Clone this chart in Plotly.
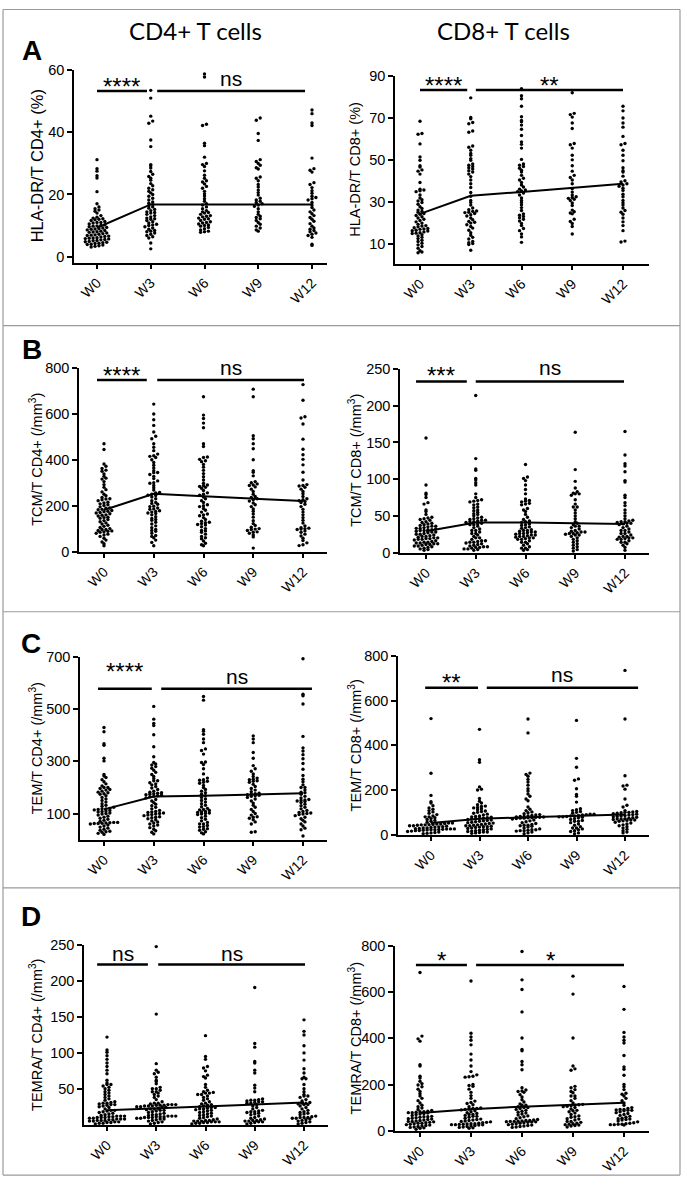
import numpy as np
import plotly.graph_objects as go

W, H = 687, 1185
categories = ["W0", "W3", "W6", "W9", "W12"]

# ---------------- data ----------------
hla_dr_cd4 = [
    [31.2, 28.3, 27.5, 26.0, 25.3, 20.9, 17.0, 16.0, 15.4, 15.0, 14.6, 14.0, 13.2, 12.7, 12.4, 12.2, 11.9, 11.6, 11.3, 11.0,
     10.8, 10.5, 10.2, 10.0, 9.8, 9.6, 9.4, 9.2, 9.0, 8.8, 8.6, 8.4, 8.2, 8.0, 7.8, 7.6, 7.4, 7.2, 7.0, 6.8, 6.6, 6.5, 6.3,
     6.1, 6.0, 5.8, 5.7, 5.5, 5.4, 5.2, 5.1, 4.9, 4.8, 4.6, 4.5, 4.3, 4.2, 4.0, 3.9, 3.7, 3.5, 3.3, 3.1, 12.0, 11.0, 9.9,
     8.9, 7.9, 6.9, 5.9],
    [53.5, 51.0, 45.2, 43.6, 42.9, 37.5, 35.4, 29.6, 29.2, 28.5, 27.4, 26.5, 25.8, 25.2, 24.6, 23.5, 22.8, 22.0, 21.5, 21.0,
     20.5, 20.0, 19.4, 18.8, 18.2, 17.6, 17.2, 16.8, 16.4, 16.0, 15.6, 15.2, 14.8, 14.4, 14.0, 13.6, 13.2, 12.8, 12.4, 12.0,
     11.6, 11.2, 10.8, 10.4, 10.0, 9.6, 9.2, 8.8, 8.4, 8.0, 7.6, 7.2, 6.8, 6.4, 6.0, 4.4, 2.5, 14.2, 12.2, 10.2, 8.2],
    [58.8, 57.8, 42.6, 42.2, 36.5, 35.7, 32.0, 30.0, 29.6, 29.0, 27.6, 26.2, 25.2, 24.4, 24.0, 23.4, 22.6, 22.0, 21.0, 20.2,
     19.5, 18.6, 17.8, 17.0, 16.6, 16.0, 15.4, 14.8, 14.4, 14.0, 13.6, 13.2, 12.8, 12.4, 12.0, 11.6, 11.2, 10.8, 10.5, 10.2,
     9.8, 9.4, 9.0, 8.6, 8.2, 7.8, 14.2, 13.0, 12.2, 11.0, 10.0, 8.0],
    [44.6, 43.9, 39.6, 37.4, 31.2, 30.6, 30.0, 29.4, 28.6, 28.2, 25.6, 25.2, 24.4, 23.2, 22.4, 21.4, 20.6, 19.8, 18.8, 18.2,
     17.8, 17.4, 17.0, 16.6, 16.2, 15.4, 14.4, 13.6, 13.0, 12.6, 12.2, 11.6, 11.0, 10.4, 9.8, 9.2, 8.6, 8.2],
    [47.2, 46.0, 43.0, 42.2, 31.7, 28.3, 27.8, 27.2, 23.8, 23.2, 22.2, 21.2, 20.4, 19.4, 19.0, 18.6, 18.2, 17.4, 16.6, 15.8,
     15.0, 14.4, 13.8, 13.2, 12.6, 12.0, 11.4, 10.6, 9.8, 9.2, 8.8, 8.4, 8.0, 7.6, 7.2, 6.8, 6.2, 4.0, 3.6],
]
hla_dr_cd4_median = [9.3, 16.8, 16.8, 16.8, 16.8]

hla_dr_cd8 = [
    [68.4, 62.6, 62.2, 57.6, 51.4, 49.8, 47.2, 46.6, 45.2, 44.6, 43.2, 39.2, 36.0, 35.6, 35.2, 34.8, 33.2, 31.8, 31.0, 30.4,
     29.6, 28.8, 27.6, 26.8, 26.0, 25.4, 25.0, 24.4, 24.0, 23.4, 22.8, 22.2, 21.6, 21.0, 20.4, 19.8, 19.2, 18.6, 18.0, 17.6,
     17.2, 16.8, 16.4, 16.0, 15.6, 15.2, 14.8, 14.2, 13.6, 13.0, 12.4, 11.6, 11.0, 10.2, 9.4, 8.6, 7.8, 6.6, 6.0, 5.6, 17.0,
     15.0, 16.2, 18.4],
    [79.6, 70.2, 69.6, 67.8, 67.2, 63.8, 63.2, 56.6, 56.0, 54.6, 53.0, 52.2, 50.6, 49.8, 48.0, 47.4, 46.8, 46.2, 45.6, 44.8,
     44.2, 43.2, 42.0, 40.4, 38.6, 36.8, 34.4, 32.6, 30.6, 29.6, 28.4, 27.0, 26.2, 25.6, 25.0, 24.4, 23.8, 23.2, 22.2, 21.4,
     20.6, 19.8, 19.0, 18.2, 17.4, 16.4, 15.2, 14.0, 13.0, 12.2, 11.0, 10.4, 10.0, 9.6, 6.8, 24.8, 25.4, 20.2],
    [84.0, 80.6, 79.2, 75.6, 70.6, 68.8, 68.2, 66.6, 64.6, 61.6, 58.6, 57.4, 55.6, 50.2, 48.0, 47.4, 46.8, 46.0, 45.0, 44.2,
     42.6, 41.2, 40.4, 39.2, 38.0, 37.0, 36.0, 35.6, 35.2, 34.8, 34.2, 33.2, 31.8, 30.6, 29.6, 28.6, 27.2, 25.8, 24.2, 23.6,
     23.0, 22.4, 21.6, 20.8, 19.6, 18.6, 17.2, 16.2, 14.6, 13.2, 10.6],
    [82.0, 72.2, 71.6, 70.4, 67.6, 65.0, 57.8, 57.2, 55.6, 52.2, 50.0, 47.2, 44.6, 42.6, 41.6, 40.4, 38.6, 36.2, 34.6, 33.2,
     32.4, 32.0, 31.6, 31.2, 30.6, 29.4, 28.2, 26.0, 25.2, 24.6, 24.2, 21.6, 20.6, 19.6, 18.2, 14.6],
    [75.6, 73.4, 70.0, 67.6, 65.6, 61.2, 57.8, 57.2, 54.6, 52.2, 49.6, 46.2, 44.8, 44.2, 42.2, 40.0, 39.4, 38.6, 38.0, 37.4,
     36.4, 35.4, 33.6, 32.4, 30.6, 29.4, 28.4, 27.0, 25.8, 25.0, 24.0, 22.2, 20.4, 18.6, 16.2, 11.2, 10.8],
]
hla_dr_cd8_median = [24.2, 32.8, 34.7, 36.7, 38.6]

tcm_cd4 = [
    [470, 445, 382, 372, 362, 350, 338, 328, 316, 305, 292, 280, 270, 260, 250, 243, 236, 229, 222, 215, 208, 201, 195, 189,
     184, 179, 174, 170, 165, 160, 155, 150, 145, 140, 135, 130, 125, 120, 115, 110, 105, 100, 96, 92, 88, 84, 80, 76, 72,
     66, 58, 50, 42, 34, 25, 190, 182, 176, 168, 158, 148, 96, 90, 86, 230, 226, 212, 204, 320, 355],
    [643, 600, 575, 550, 521, 503, 492, 470, 455, 440, 425, 418, 410, 400, 388, 376, 364, 352, 344, 336, 328, 318, 308, 298,
     288, 278, 268, 258, 250, 244, 238, 230, 222, 214, 206, 198, 190, 184, 178, 172, 166, 160, 152, 144, 136, 128, 120, 112,
     104, 96, 88, 80, 70, 60, 50, 40, 25, 345, 255, 246, 186, 175, 168, 415, 300, 210, 140, 66, 92, 196],
    [675, 595, 580, 560, 540, 470, 458, 412, 402, 392, 380, 368, 354, 340, 326, 312, 298, 290, 284, 276, 266, 256, 246, 238,
     230, 222, 214, 204, 196, 188, 180, 172, 164, 156, 148, 140, 132, 126, 122, 116, 108, 100, 92, 84, 76, 66, 56, 46, 36,
     25, 288, 280, 200, 128, 118, 410, 396, 250, 160, 90, 60, 30],
    [708, 675, 505, 492, 470, 448, 400, 352, 346, 330, 305, 295, 288, 282, 272, 262, 250, 240, 230, 220, 212, 204, 196, 186,
     176, 164, 150, 134, 122, 114, 106, 100, 96, 92, 86, 80, 72, 64, 15, 290, 236, 226, 98, 84, 300],
    [728, 660, 588, 582, 556, 490, 446, 422, 402, 378, 346, 312, 292, 286, 280, 272, 262, 252, 240, 230, 222, 214, 206, 196,
     184, 172, 160, 148, 136, 124, 112, 104, 100, 96, 90, 84, 76, 68, 58, 48, 38, 30, 26, 288, 226, 218, 102, 98],
]
tcm_cd4_median = [181, 252, 241, 231, 220]

tcm_cd8 = [
    [156, 92, 81, 79, 75, 68, 66, 58, 56, 52, 48, 47, 46, 45, 44, 42, 41, 40, 39, 38, 37, 36, 35, 34, 33, 32, 31, 30, 30, 29,
     28, 27, 26, 25, 24, 23, 22, 21, 20, 20, 19, 19, 18, 17, 16, 15, 14, 13, 13, 12, 12, 11, 10, 9, 8, 7, 6, 5, 4, 3, 28, 25,
     22, 18, 14, 11, 31, 33, 36, 9],
    [214, 128, 114, 112, 101, 99, 95, 92, 80, 75, 72, 71, 70, 69, 65, 61, 57, 53, 50, 47, 46, 45, 44, 43, 42, 41, 40, 39, 38,
     36, 34, 32, 30, 28, 26, 24, 22, 20, 18, 16, 15, 14, 13, 12, 11, 10, 9, 8, 7, 6, 5, 4, 3, 44, 42, 38, 30, 16, 14, 8, 7,
     5, 58, 62, 66, 48, 52, 55, 26, 20],
    [120, 103, 101, 98, 92, 86, 80, 73, 71, 69, 67, 65, 60, 56, 52, 48, 45, 43, 41, 39, 37, 35, 33, 31, 30, 29, 28, 27, 26,
     25, 24, 23, 22, 21, 20, 19, 18, 16, 14, 12, 10, 8, 6, 4, 3, 30, 28, 26, 24, 22, 20, 34, 38, 42, 70, 66, 58, 18, 14, 6],
    [164, 113, 97, 88, 83, 81, 80, 78, 72, 66, 62, 58, 54, 50, 46, 42, 40, 38, 36, 34, 32, 30, 29, 28, 27, 26, 25, 24, 22,
     20, 18, 16, 14, 12, 10, 8, 6, 4, 2, 28, 26, 24, 62, 80, 36],
    [165, 133, 121, 118, 110, 98, 96, 78, 75, 68, 64, 58, 54, 50, 46, 44, 43, 42, 41, 40, 39, 38, 36, 34, 32, 30, 28, 26, 24,
     22, 21, 20, 19, 18, 16, 14, 12, 10, 7, 3, 42, 40, 22, 20, 18, 26, 30, 14],
]
tcm_cd8_median = [29, 41, 41, 40, 39]

tem_cd4 = [
    [430, 414, 368, 362, 312, 302, 250, 244, 238, 230, 222, 214, 206, 200, 196, 192, 186, 180, 174, 168, 162, 156, 150, 144,
     138, 132, 128, 124, 120, 118, 116, 114, 112, 110, 106, 102, 98, 94, 90, 86, 82, 78, 74, 70, 66, 65, 64, 63, 62, 60, 56,
     52, 48, 44, 40, 36, 32, 28, 24, 20, 200, 190, 182, 176, 118, 108, 100, 66, 62, 30],
    [511, 462, 446, 438, 402, 356, 318, 296, 286, 280, 274, 266, 258, 250, 242, 234, 226, 218, 210, 204, 198, 192, 186, 180,
     176, 172, 170, 168, 166, 164, 160, 154, 148, 142, 136, 130, 124, 118, 112, 108, 104, 100, 98, 96, 92, 88, 84, 80, 76,
     72, 68, 64, 60, 56, 52, 46, 40, 34, 28, 22, 182, 178, 174, 106, 102, 94, 86, 226, 214, 290],
    [549, 535, 422, 416, 404, 386, 372, 348, 342, 328, 298, 288, 272, 252, 236, 230, 224, 216, 208, 200, 192, 186, 180, 174,
     168, 162, 156, 150, 144, 138, 132, 126, 120, 116, 112, 108, 104, 100, 96, 90, 84, 78, 72, 66, 60, 54, 48, 42, 36, 30,
     26, 22, 228, 220, 114, 106, 102, 98, 60, 50, 40, 296],
    [398, 386, 372, 334, 312, 284, 272, 262, 252, 242, 236, 230, 226, 220, 212, 204, 196, 190, 184, 178, 174, 170, 166, 162,
     156, 148, 140, 132, 124, 116, 108, 100, 94, 88, 82, 76, 68, 60, 30, 28, 232, 224, 172, 168, 176, 86],
    [694, 558, 552, 520, 396, 352, 340, 326, 310, 292, 270, 246, 232, 222, 210, 200, 190, 182, 174, 166, 160, 154, 150, 146,
     142, 136, 130, 124, 118, 112, 108, 104, 100, 96, 92, 86, 80, 74, 68, 60, 52, 44, 38, 14, 152, 148, 102, 98, 180, 200],
]
tem_cd4_median = [116, 165, 168, 173, 178]

tem_cd8 = [
    [520, 275, 176, 148, 142, 130, 120, 114, 108, 102, 96, 90, 84, 80, 76, 72, 68, 64, 60, 56, 52, 50, 48, 46, 45, 44, 42,
     40, 38, 36, 34, 32, 30, 28, 27, 26, 25, 24, 23, 22, 21, 20, 18, 16, 14, 12, 10, 8, 6, 4, 52, 48, 30, 26, 22, 80, 44,
     40, 35, 19],
    [472, 336, 324, 214, 204, 200, 162, 150, 142, 134, 126, 120, 116, 112, 106, 100, 96, 92, 88, 84, 80, 78, 76, 74, 72, 70,
     68, 66, 64, 62, 60, 58, 56, 54, 52, 50, 48, 46, 44, 42, 40, 38, 36, 34, 32, 30, 28, 26, 24, 22, 20, 18, 16, 14, 12, 10,
     8, 6, 82, 74, 40, 36, 12, 104, 122, 128],
    [518, 456, 276, 270, 262, 248, 236, 222, 206, 182, 172, 152, 124, 114, 108, 102, 98, 94, 90, 88, 86, 84, 82, 80, 79, 78,
     77, 76, 74, 72, 70, 66, 62, 58, 54, 50, 46, 42, 40, 38, 34, 30, 26, 22, 20, 18, 16, 12, 8, 4, 82, 78, 74, 42,
     22, 18, 196, 160],
    [512, 342, 302, 250, 244, 206, 180, 172, 146, 116, 112, 108, 104, 100, 96, 92, 90, 88, 86, 84, 82, 80, 78, 76, 72, 68,
     64, 60, 54, 48, 42, 36, 30, 26, 22, 18, 14, 8, 4, 92, 84, 80, 60, 30],
    [736, 518, 264, 222, 218, 204, 160, 132, 124, 108, 104, 102, 100, 98, 96, 94, 92, 90, 88, 86, 84, 82, 80, 78, 76, 74, 72,
     70, 68, 66, 64, 62, 60, 56, 52, 48, 44, 40, 36, 30, 24, 18, 12, 8, 70, 66, 100],
]
tem_cd8_median = [52, 71, 78, 84, 91]

temra_cd4 = [
    [122, 104, 101, 96, 91, 86, 81, 76, 71, 62, 58, 56, 54, 52, 50, 48, 46, 44, 42, 40, 38, 36, 34, 32, 31, 30, 29, 28, 27,
     26, 25, 24, 22, 20, 19, 18, 17, 16, 15, 14, 13, 12, 12, 11, 11, 10, 10, 9, 9, 8, 8, 7, 7, 6, 6, 5, 5, 4, 4, 3, 3, 2, 2,
     1, 12, 10, 8, 6, 30, 28, 56, 20],
    [248, 154, 85, 76, 73, 71, 66, 62, 57, 52, 50, 48, 46, 44, 42, 40, 38, 35, 32, 30, 29, 28, 28, 27, 27, 26, 26, 25, 25,
     24, 24, 23, 22, 21, 20, 19, 18, 17, 16, 15, 14, 13, 12, 12, 11, 11, 10, 10, 9, 9, 8, 8, 7, 6, 5, 4, 3, 2, 1, 28, 27, 26,
     12, 11, 10, 30, 50, 46, 22, 20, 60, 14],
    [124, 95, 91, 81, 79, 75, 69, 67, 65, 56, 52, 48, 46, 45, 44, 42, 40, 38, 36, 34, 32, 30, 29, 28, 27, 26, 25, 24, 23, 22,
     21, 20, 19, 18, 17, 16, 15, 14, 13, 12, 11, 10, 9, 8, 7, 6, 6, 5, 5, 5, 4, 4, 4, 3, 3, 2, 2, 1, 44, 42, 24, 22],
    [191, 113, 108, 88, 86, 76, 72, 55, 51, 46, 36, 35, 34, 33, 32, 31, 30, 28, 26, 24, 22, 20, 19, 18, 17, 16, 15, 14, 12,
     10, 9, 8, 7, 6, 5, 5, 4, 4, 3, 2, 1, 34, 32, 30, 18, 6],
    [146, 130, 125, 110, 100, 90, 78, 72, 66, 64, 56, 50, 46, 42, 40, 38, 35, 33, 31, 30, 29, 28, 26, 24, 22, 20, 18, 17, 16,
     15, 14, 12, 11, 10, 10, 9, 8, 7, 6, 5, 4, 3, 2, 1, 30, 28, 10, 9, 40, 64],
]
temra_cd4_median = [20, 23, 26, 29, 31]

temra_cd8 = [
    [686, 410, 398, 388, 286, 280, 236, 228, 214, 204, 198, 190, 180, 170, 160, 150, 140, 130, 120, 110, 104, 98, 92, 88, 84,
     82, 80, 78, 76, 74, 72, 70, 66, 62, 60, 58, 56, 54, 52, 50, 48, 46, 44, 42, 40, 38, 36, 34, 32, 30, 28, 26, 24, 22, 20,
     18, 16, 14, 12, 10, 82, 78, 60, 40, 32, 6],
    [649, 422, 406, 392, 372, 332, 306, 280, 256, 242, 236, 232, 200, 192, 180, 166, 152, 140, 128, 122, 112, 104, 98, 96,
     94, 92, 90, 86, 82, 78, 74, 70, 66, 62, 58, 54, 50, 48, 46, 44, 42, 40, 38, 36, 34, 32, 30, 29, 28, 27, 26, 25, 24, 22,
     20, 18, 16, 14, 12, 10, 96, 62, 30, 26, 234, 196, 118, 70],
    [777, 654, 612, 515, 402, 352, 346, 300, 286, 264, 186, 176, 172, 166, 156, 146, 134, 124, 116, 110, 104, 100, 96, 92,
     88, 84, 80, 76, 72, 68, 64, 60, 56, 52, 48, 46, 44, 42, 41, 40, 39, 38, 37, 36, 34, 32, 30, 28, 26, 24, 22, 20, 18, 16,
     14, 44, 40, 110, 100, 170],
    [670, 592, 402, 280, 268, 262, 192, 186, 178, 164, 150, 140, 130, 120, 114, 110, 106, 100, 94, 88, 82, 76, 70, 64, 58,
     52, 46, 40, 36, 32, 28, 24, 20, 16, 112, 108, 104, 60, 40, 30, 26, 22, 150, 170, 50, 86],
    [625, 526, 426, 406, 392, 380, 326, 276, 266, 240, 200, 190, 178, 162, 158, 150, 140, 130, 120, 110, 100, 96, 92, 90, 88,
     86, 82, 78, 74, 70, 66, 62, 58, 54, 50, 48, 46, 42, 38, 34, 32, 30, 28, 28, 26, 26, 24, 92, 88, 52],
]
temra_cd8_median = [76, 93, 104, 111, 121]

# significance labels and the value at which each bar is drawn
hla_dr_cd4_sig, hla_dr_cd4_bar = ["****", "ns"], 53.3
hla_dr_cd8_sig, hla_dr_cd8_bar = ["****", "**"], 83.3
tcm_cd4_sig, tcm_cd4_bar = ["****", "ns"], 748
tcm_cd8_sig, tcm_cd8_bar = ["***", "ns"], 233
tem_cd4_sig, tem_cd4_bar = ["****", "ns"], 579
tem_cd8_sig, tem_cd8_bar = ["**", "ns"], 658
temra_cd4_sig, temra_cd4_bar = ["ns", "ns"], 223
temra_cd8_sig, temra_cd8_bar = ["*", "*"], 718

column_titles = ["CD4+ T cells", "CD8+ T cells"]
panel_letters = ["A", "B", "C", "D"]

# ---------------- layout specs (pixels) ----------------
panels = [
    dict(vals=hla_dr_cd4, med=hla_dr_cd4_median, sig=hla_dr_cd4_sig, bar_y=hla_dr_cd4_bar,
         px=(74, 327, 63, 258), w0=97, sp=53.75, yr=(-1.9, 60), ticks=[0, 20, 40, 60],
         bars=[(0.0, 0.93), (1.12, 3.87)], lab=[9, 10],
         title="HLA-DR/T CD4+ (%)", tx=37, tsize=16.5),
    dict(vals=hla_dr_cd8, med=hla_dr_cd8_median, sig=hla_dr_cd8_sig, bar_y=hla_dr_cd8_bar,
         px=(395, 649, 69, 259), w0=420, sp=50.75, yr=(0.5, 90), ticks=[10, 30, 50, 70, 90],
         bars=[(0.0, 0.93), (1.10, 4.0)], lab=[10, 10],
         title="HLA-DR/T CD8+ (%)", tx=355, tsize=14.5),
    dict(vals=tcm_cd4, med=tcm_cd4_median, sig=tcm_cd4_sig, bar_y=tcm_cd4_bar,
         px=(79, 327, 365, 551), w0=104, sp=49.75, yr=(0, 800), ticks=[0, 200, 400, 600, 800],
         bars=[(-0.14, 0.86), (1.07, 4.02)], lab=[10, 11],
         title="TCM/T CD4+ (/mm<sup>3</sup>)", tx=36, tsize=14.5),
    dict(vals=tcm_cd8, med=tcm_cd8_median, sig=tcm_cd8_sig, bar_y=tcm_cd8_bar,
         px=(400, 649, 366, 552), w0=426, sp=49.75, yr=(0, 250), ticks=[0, 50, 100, 150, 200, 250],
         bars=[(-0.2, 0.82), (1.0, 3.98)], lab=[11, 12],
         title="TCM/T CD8+ (/mm<sup>3</sup>)", tx=355, tsize=14.5),
    dict(vals=tem_cd4, med=tem_cd4_median, sig=tem_cd4_sig, bar_y=tem_cd4_bar,
         px=(80, 327, 658, 843), w0=104, sp=49.75, yr=(0, 700), ticks=[100, 300, 500, 700],
         bars=[(-0.12, 0.96), (1.15, 4.18)], lab=[22, 10],
         title="TEM/T CD4+ (/mm<sup>3</sup>)", tx=36, tsize=14.5),
    dict(vals=tem_cd8, med=tem_cd8_median, sig=tem_cd8_sig, bar_y=tem_cd8_bar,
         px=(398, 649, 657, 838), w0=431, sp=48.5, yr=(0, 800), ticks=[0, 200, 400, 600, 800],
         bars=[(-0.12, 0.97), (1.15, 4.27)], lab=[10, 11],
         title="TEM/T CD8+ (/mm<sup>3</sup>)", tx=355, tsize=14.5),
    dict(vals=temra_cd4, med=temra_cd4_median, sig=temra_cd4_sig, bar_y=temra_cd4_bar,
         px=(84, 328, 950, 1132), w0=107, sp=49.25, yr=(0, 250), ticks=[50, 100, 150, 200, 250],
         bars=[(-0.2, 0.83), (1.04, 4.02)], lab=[9, 9],
         title="TEMRA/T CD4+ (/mm<sup>3</sup>)", tx=36, tsize=14.5),
    dict(vals=temra_cd8, med=temra_cd8_median, sig=temra_cd8_sig, bar_y=temra_cd8_bar,
         px=(395, 649, 951, 1138), w0=420, sp=51.0, yr=(0, 800), ticks=[0, 200, 400, 600, 800],
         bars=[(-0.08, 0.92), (1.1, 4.0)], lab=[10, 10],
         title="TEMRA/T CD8+ (/mm<sup>3</sup>)", tx=355, tsize=14.5),
]

TXT = "Liberation Sans, Arial, sans-serif"
ROW_H, COL_W = 3.0, 3.9


def swarm(values, ppu_y, y0, ppu_x):
    v = np.sort(np.asarray(values, float))
    rows = np.floor((v - y0) * ppu_y / ROW_H).astype(int)
    offs = np.zeros(len(v))
    for r in np.unique(rows):
        idx = np.where(rows == r)[0]
        n = len(idx)
        offs[idx] = (np.arange(n) - (n - 1) / 2.0) * COL_W
    return v, offs / ppu_x


fig = go.Figure()
layout = {}
annotations = []
shapes = []

for k, p in enumerate(panels):
    n = k + 1
    xa = "xaxis" if n == 1 else f"xaxis{n}"
    ya = "yaxis" if n == 1 else f"yaxis{n}"
    xr_ = "x" if n == 1 else f"x{n}"
    yr_ = "y" if n == 1 else f"y{n}"
    x0, x1, yt, yb = p["px"]
    xrange = [(x0 - p["w0"]) / p["sp"], (x1 - p["w0"]) / p["sp"]]
    ppu_x = p["sp"]
    ppu_y = (yb - yt) / (p["yr"][1] - p["yr"][0])

    for g, vals in enumerate(p["vals"]):
        v, off = swarm(vals, ppu_y, p["yr"][0], ppu_x)
        fig.add_trace(go.Scatter(
            x=g + off, y=v, mode="markers", xaxis=xr_, yaxis=yr_,
            marker=dict(size=3.4, color="black", line=dict(width=0)),
            hoverinfo="skip", cliponaxis=False))

    fig.add_trace(go.Scatter(
        x=list(range(len(categories))), y=p["med"], mode="lines", xaxis=xr_, yaxis=yr_,
        line=dict(color="black", width=2), hoverinfo="skip"))

    layout[xa] = dict(domain=[x0 / W, x1 / W], range=xrange, anchor=yr_,
                      tickvals=list(range(len(categories))), ticktext=categories,
                      tickangle=-45, tickfont=dict(family=TXT, size=14, color="black"),
                      showline=True, linecolor="black", linewidth=1.5, ticks="outside",
                      ticklen=5, tickwidth=1.5, tickcolor="black",
                      showgrid=False, zeroline=False, fixedrange=True)
    layout[ya] = dict(domain=[1 - yb / H, 1 - yt / H], range=list(p["yr"]), anchor=xr_,
                      tickvals=p["ticks"], tickfont=dict(family=TXT, size=14.5, color="black"),
                      showline=True, linecolor="black", linewidth=1.5, ticks="outside",
                      ticklen=5, tickwidth=1.5, tickcolor="black",
                      showgrid=False, zeroline=False, fixedrange=True)

    for b, (bx0, bx1) in enumerate(p["bars"]):
        shapes.append(dict(type="line", xref=xr_, yref=yr_, x0=bx0, x1=bx1,
                           y0=p["bar_y"], y1=p["bar_y"], line=dict(color="black", width=2.5)))
        label = p["sig"][b]
        is_star = "*" in label
        shift = p["lab"][b] - 5 if is_star else p["lab"][b] + 2
        annotations.append(dict(xref=xr_, yref=yr_, x=(bx0 + bx1) / 2, y=p["bar_y"],
                                text=label, showarrow=False, yanchor="middle", xanchor="center",
                                yshift=shift,
                                font=dict(family=TXT, size=24 if is_star else 21, color="black")))

    annotations.append(dict(xref="paper", yref="paper", x=p["tx"] / W, y=1 - (yt + yb) / 2 / H,
                            text=p["title"], textangle=-90, showarrow=False,
                            xanchor="center", yanchor="middle",
                            font=dict(family=TXT, size=p["tsize"], color="black")))

# column titles
for t, cx in zip(column_titles, [195, 503]):
    annotations.append(dict(xref="paper", yref="paper", x=cx / W, y=1 - 23 / H, text=t,
                            showarrow=False, xanchor="center", yanchor="middle",
                            font=dict(family="Lato, Liberation Sans, sans-serif", size=24, color="black")))

# panel letters
for letter, (lx, ly) in zip(panel_letters, [(32, 43), (32, 346), (31, 644), (31, 921)]):
    annotations.append(dict(xref="paper", yref="paper", x=lx / W, y=1 - ly / H,
                            text=f"<b>{letter}</b>", showarrow=False, xanchor="center", yanchor="middle",
                            font=dict(family=TXT, size=28, color="black")))

# frame lines
GRAY = "#9a9a9a"
fx0, fx1 = 3 / W, 680 / W
for yy in [1.5, 322, 612, 892, 1183]:
    shapes.append(dict(type="line", xref="paper", yref="paper", x0=fx0, x1=fx1,
                       y0=1 - yy / H, y1=1 - yy / H, line=dict(color=GRAY, width=1.2)))
for xx in [3, 680]:
    shapes.append(dict(type="line", xref="paper", yref="paper", x0=xx / W, x1=xx / W,
                       y0=1 - 1.5 / H, y1=1 - 1183 / H, line=dict(color=GRAY, width=1.2)))

fig.update_layout(width=W, height=H, margin=dict(l=0, r=0, t=0, b=0),
                  paper_bgcolor="white", plot_bgcolor="white", showlegend=False,
                  annotations=annotations, shapes=shapes, **layout)

fig.write_html("out.html", config={"displayModeBar": False},
               post_script="document.body.style.margin='0';document.body.style.overflow='hidden';")
